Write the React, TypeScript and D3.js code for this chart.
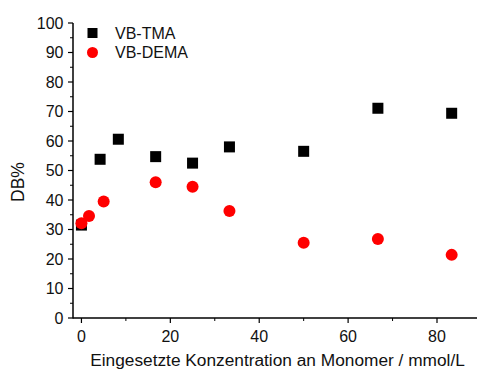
import React from "react";
import * as d3 from "d3";

const tmaX = [0, 4.2, 8.3, 16.7, 25, 33.3, 50, 66.7, 83.3];
const tmaY = [31.5, 53.8, 60.6, 54.7, 52.5, 58, 56.5, 71.1, 69.4];
const demaX = [0, 1.7, 5, 16.7, 25, 33.3, 50, 66.7, 83.3];
const demaY = [32.1, 34.6, 39.5, 46.0, 44.5, 36.3, 25.5, 26.8, 21.4];
const xTicks = [0, 20, 40, 60, 80];
const xMinor = [10, 30, 50, 70];
const yTicks = [0, 10, 20, 30, 40, 50, 60, 70, 80, 90, 100];
const yMinor = [5, 15, 25, 35, 45, 55, 65, 75, 85, 95];
const seriesNames = ["VB-TMA", "VB-DEMA"];
const xLabel = "Eingesetzte Konzentration an Monomer / mmol/L";
const yLabel = "DB%";

const W = 477;
const H = 370;
const FONT = "'Liberation Sans', Arial, sans-serif";

export default function App() {
  const x = d3.scaleLinear().domain([-1.9, 89]).range([73, 477]);
  const y = d3.scaleLinear().domain([0, 100]).range([318, 23]);
  const x0 = x.range()[0];
  const y0 = y.range()[0];
  return (
    <svg
      width={W}
      height={H}
      style={{ position: "absolute", left: 0, top: 0, background: "#fff" }}
      fontFamily={FONT}
    >
      <rect x={0} y={0} width={W} height={H} fill="#fff" />
      {/* y axis */}
      <line x1={x0} x2={x0} y1={y(100)} y2={y0 + 0.5} stroke="#000" strokeWidth={1.5} />
      {yTicks.map((t) => (
        <g key={"yt" + t}>
          <line x1={x0 - 5} x2={x0} y1={y(t)} y2={y(t)} stroke="#000" strokeWidth={1.2} />
          <text x={63.5} y={y(t)} dy="0.36em" textAnchor="end" fontSize={16} fill="#111">
            {t}
          </text>
        </g>
      ))}
      {yMinor.map((t) => (
        <line key={"ym" + t} x1={x0 - 3} x2={x0} y1={y(t)} y2={y(t)} stroke="#000" strokeWidth={1} />
      ))}
      {/* x axis */}
      <line x1={x0} x2={x.range()[1]} y1={y0} y2={y0} stroke="#000" strokeWidth={1.5} />
      {xTicks.map((t) => (
        <g key={"xt" + t}>
          <line x1={x(t)} x2={x(t)} y1={y0} y2={y0 + 5} stroke="#000" strokeWidth={1.2} />
          <text x={x(t)} y={342} textAnchor="middle" fontSize={16} fill="#111">
            {t}
          </text>
        </g>
      ))}
      {xMinor.map((t) => (
        <line key={"xm" + t} x1={x(t)} x2={x(t)} y1={y0} y2={y0 + 3} stroke="#000" strokeWidth={1} />
      ))}
      {/* labels */}
      <text x={277.5} y={366} textAnchor="middle" fontSize={17.3} fill="#111">
        {xLabel}
      </text>
      <text
        transform={`translate(23.5,182) rotate(-90)`}
        textAnchor="middle"
        fontSize={17.5}
        fill="#111"
      >
        {yLabel}
      </text>
      {/* data */}
      {tmaX.map((v, i) => (
        <rect key={"t" + i} x={x(v) - 5.5} y={y(tmaY[i]) - 5.5} width={11} height={11} fill="#000" />
      ))}
      {demaX.map((v, i) => (
        <circle key={"d" + i} cx={x(v)} cy={y(demaY[i])} r={6} fill="#ff0000" />
      ))}
      {/* legend */}
      <rect x={87.5} y={28} width={10} height={10} fill="#000" />
      <text x={115} y={33} dy="0.36em" fontSize={16} fill="#111">
        {seriesNames[0]}
      </text>
      <circle cx={92.5} cy={52.5} r={5.5} fill="#ff0000" />
      <text x={115} y={52.5} dy="0.36em" fontSize={16} fill="#111">
        {seriesNames[1]}
      </text>
    </svg>
  );
}
